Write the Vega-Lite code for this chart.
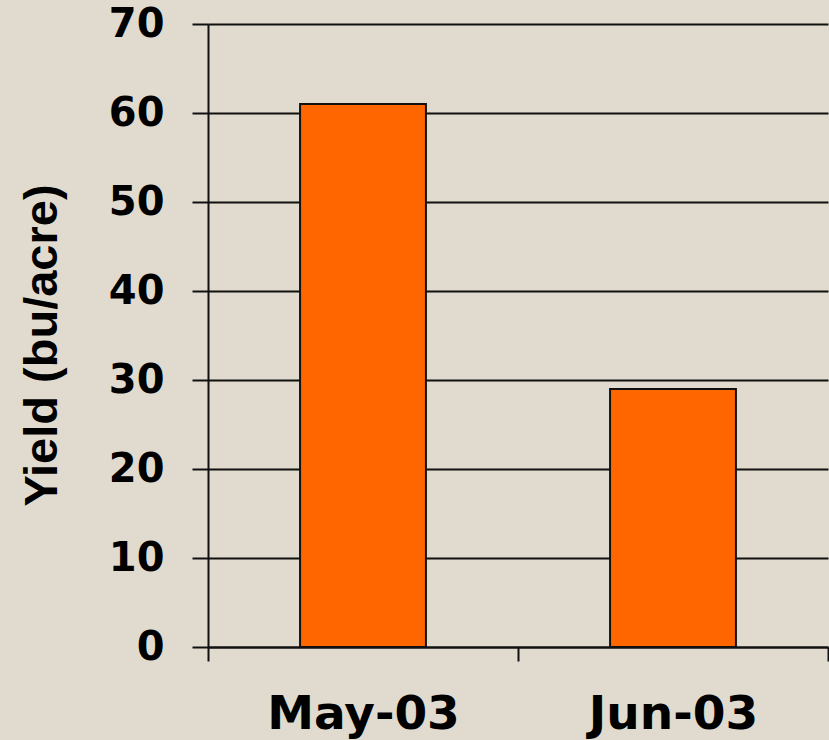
{
  "$schema": "https://vega.github.io/schema/vega-lite/v6.json",
  "width": 620,
  "height": 623,
  "autosize": {"type": "none"},
  "padding": {"left": 208, "top": 24, "right": 1, "bottom": 93},
  "background": "#e1dbcf",
  "config": {"view": {"stroke": null}},
  "data": {"values": [
    {"month": "May-03", "yield": 61},
    {"month": "Jun-03", "yield": 29}
  ]},
  "mark": {"type": "bar", "color": "#ff6600", "stroke": "#111111", "strokeWidth": 2, "width": {"band": 0.406}},
  "encoding": {
    "x": {
      "field": "month", "type": "nominal", "sort": null,
      "scale": {"paddingInner": 0, "paddingOuter": 0},
      "axis": {
        "title": null, "labelAngle": 0, "tickBand": "extent", "labelLimit": 0,
        "domainColor": "#111111", "domainWidth": 2,
        "tickColor": "#111111", "tickWidth": 2, "tickSize": 14,
        "labelFont": "DejaVu Sans", "labelFontWeight": "bold", "labelFontSize": 47,
        "labelColor": "#000000", "labelPadding": 30, "labelBaseline": "top"
      }
    },
    "y": {
      "field": "yield", "type": "quantitative",
      "scale": {"domain": [0, 70], "nice": false},
      "axis": {
        "title": "Yield (bu/acre)", "values": [0, 10, 20, 30, 40, 50, 60, 70],
        "grid": true, "gridColor": "#111111", "gridWidth": 2, "gridOpacity": 1,
        "domainColor": "#111111", "domainWidth": 2,
        "tickColor": "#111111", "tickWidth": 2, "tickSize": 16,
        "labelFont": "DejaVu Sans", "labelFontWeight": "bold", "labelFontSize": 40,
        "labelColor": "#000000", "labelPadding": 28, "labelBaseline": "middle", "labelLimit": 0,
        "titleFont": "Liberation Sans", "titleFontWeight": "bold", "titleFontSize": 47,
        "titleColor": "#000000", "titleAngle": -90, "titleAlign": "center",
        "titleBaseline": "alphabetic", "titleX": -152, "titleY": 321
      }
    }
  }
}
